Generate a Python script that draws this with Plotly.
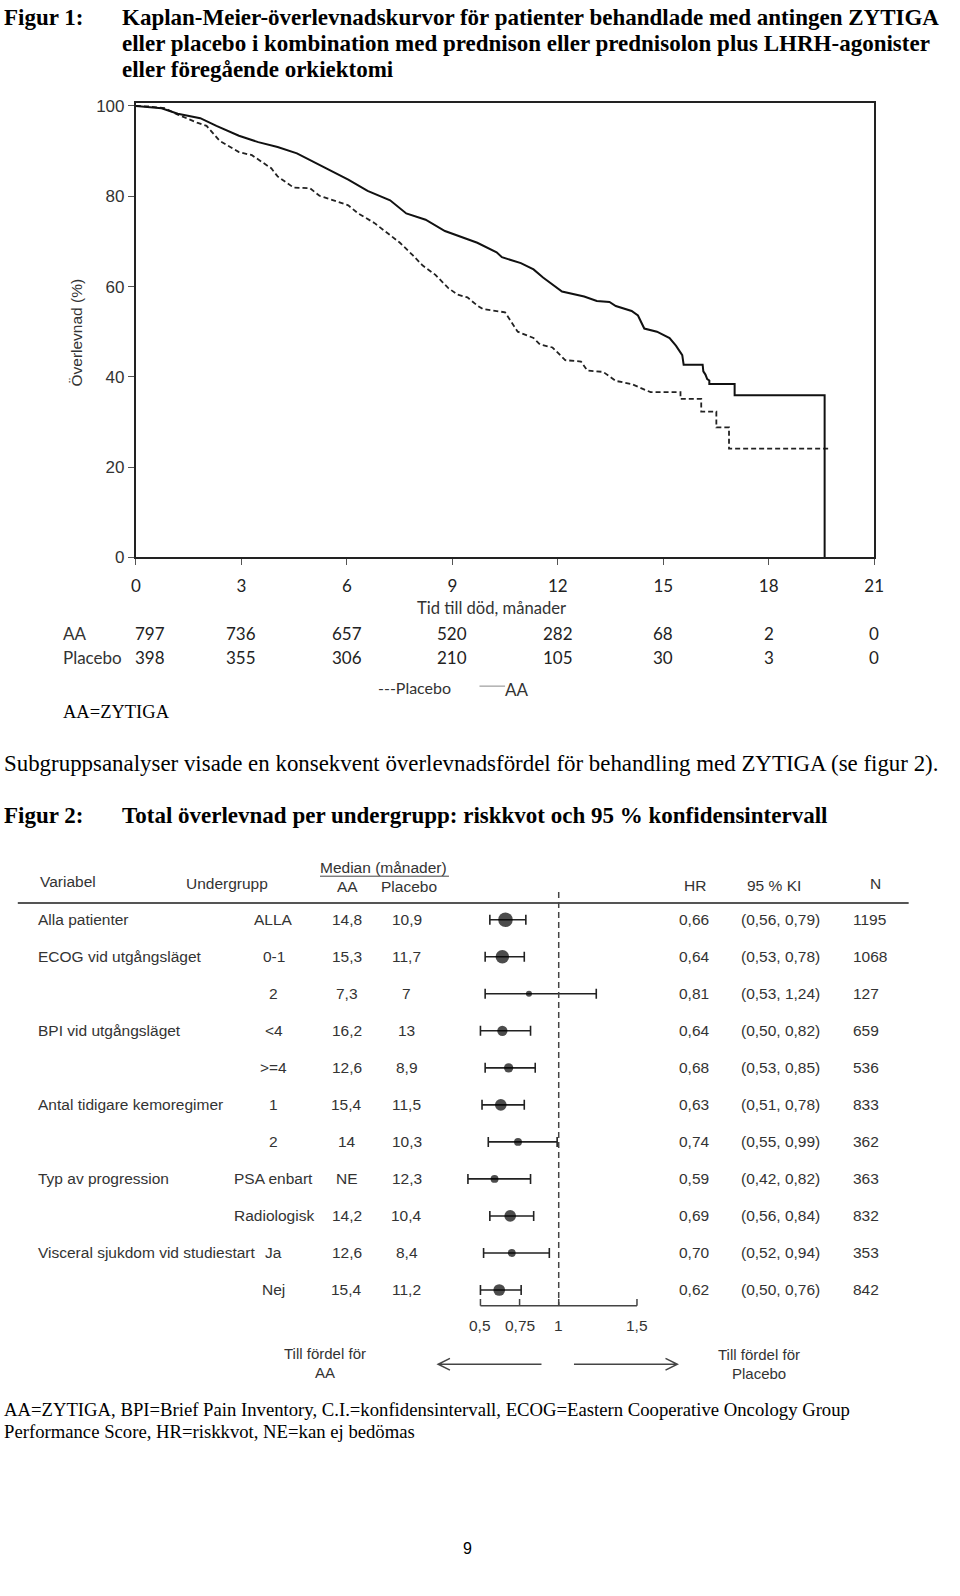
import plotly.graph_objects as go

W, H = 960, 1596

# ---------------- Figure 1 data (Kaplan-Meier) ----------------
aa_time = [0, 0.3, 0.73, 1.19, 1.83, 2.29, 2.93, 3.48, 4.03, 4.58, 5.13, 5.59, 6.04, 6.59,
           7.23, 7.69, 8.24, 8.79, 9.71, 10.26, 10.41, 10.95, 11.31, 11.58, 12.12, 12.75,
           13.11, 13.47, 13.65, 14.10, 14.28, 14.46, 14.82, 15.18, 15.36, 15.54, 15.58,
           16.12, 16.14, 16.20, 16.25, 16.31, 16.31, 17.03, 17.03, 19.59, 19.59]
aa_surv = [100, 99.8, 99.5, 98.3, 97.3, 95.6, 93.4, 92.0, 90.9, 89.5, 87.3, 85.5, 83.7, 81.2,
           79.1, 76.2, 74.8, 72.3, 69.7, 67.6, 66.5, 65.2, 63.8, 62.0, 58.9, 57.8,
           56.8, 56.6, 55.7, 54.6, 53.6, 50.7, 50.0, 48.6, 46.9, 44.8, 42.7,
           42.7, 41.2, 40.5, 39.5, 39.2, 38.4, 38.4, 35.9, 35.9, 0]

pl_time = [0, 0.35, 0.82, 1.19, 1.74, 2.01, 2.38, 2.93, 3.30, 3.85, 4.03, 4.49, 4.95, 5.22,
           6.04, 6.32, 6.78, 7.14, 7.51, 7.88, 8.15, 8.52, 8.88, 9.15, 9.43, 9.71, 9.87,
           10.50, 10.86, 11.31, 11.49, 11.85, 12.21, 12.66, 12.84, 13.29, 13.65, 14.10,
           14.64, 15.49, 15.49, 16.08, 16.08, 16.51, 16.51, 16.87, 16.87, 19.77]
pl_surv = [100, 99.9, 99.5, 98.1, 96.3, 95.6, 92.3, 89.8, 89.1, 86.2, 84.4, 81.9, 81.8, 80.1,
           78.0, 76.2, 74.1, 71.9, 69.7, 66.9, 64.7, 62.6, 59.7, 58.2, 57.6, 55.8, 55.0,
           54.3, 50.0, 48.6, 47.2, 46.5, 43.7, 43.4, 41.4, 41.1, 39.1, 38.4,
           36.6, 36.6, 35.1, 35.1, 32.3, 32.3, 28.8, 28.8, 24.1, 24.1]

km_xticks = [0, 3, 6, 9, 12, 15, 18, 21]
km_yticks = [0, 20, 40, 60, 80, 100]
risk_aa = [797, 736, 657, 520, 282, 68, 2, 0]
risk_pl = [398, 355, 306, 210, 105, 30, 3, 0]

# ---------------- Figure 2 data (forest plot) ----------------
variabel = ["Alla patienter", "ECOG vid utgångsläget", "", "BPI vid utgångsläget", "",
            "Antal tidigare kemoregimer", "", "Typ av progression", "",
            "Visceral sjukdom vid studiestart", ""]
undergrupp = ["ALLA", "0-1", "2", "<4", ">=4", "1", "2", "PSA enbart", "Radiologisk", "Ja", "Nej"]
median_aa = ["14,8", "15,3", "7,3", "16,2", "12,6", "15,4", "14", "NE", "14,2", "12,6", "15,4"]
median_pl = ["10,9", "11,7", "7", "13", "8,9", "11,5", "10,3", "12,3", "10,4", "8,4", "11,2"]
hr = [0.66, 0.64, 0.81, 0.64, 0.68, 0.63, 0.74, 0.59, 0.69, 0.70, 0.62]
ci_lo = [0.56, 0.53, 0.53, 0.50, 0.53, 0.51, 0.55, 0.42, 0.56, 0.52, 0.50]
ci_hi = [0.79, 0.78, 1.24, 0.82, 0.85, 0.78, 0.99, 0.82, 0.84, 0.94, 0.76]
n_pat = [1195, 1068, 127, 659, 536, 833, 362, 363, 832, 353, 842]
hr_ticks = [0.5, 0.75, 1, 1.5]
hr_ticktext = ["0,5", "0,75", "1", "1,5"]

# ---------------- helpers ----------------
SERIF = "Liberation Serif, Times New Roman, serif"
SANS = "Liberation Sans, Arial, sans-serif"
NARROW = "Liberation Sans Narrow, Lato, sans-serif"
TXT = "#333333"


def PX(x):
    return x / W


def PY(y):
    return 1 - y / H


ann = []
shapes = []


def text(x, y, s, size=15, family=SANS, color=TXT, xanchor="left", bold=False, **kw):
    if bold:
        s = "<b>" + s + "</b>"
    d = dict(x=PX(x), y=PY(y), xref="paper", yref="paper", text=s, showarrow=False,
             xanchor=xanchor, yanchor="middle", font=dict(size=size, family=family, color=color))
    d.update(kw)
    ann.append(d)


fig = go.Figure()

# ---------------- Figure 1 ----------------
fig.add_trace(go.Scatter(x=pl_time, y=pl_surv, mode="lines", xaxis="x", yaxis="y",
                         line=dict(color="#222222", width=1.8, dash="5px,3px"),
                         showlegend=False, hoverinfo="skip"))
fig.add_trace(go.Scatter(x=aa_time, y=aa_surv, mode="lines", xaxis="x", yaxis="y",
                         line=dict(color="#111111", width=2),
                         showlegend=False, hoverinfo="skip"))

km_top, km_bot = 98, 557
km_left, km_right = 133, 883
ymax = (km_bot - km_top) / ((km_bot - 101) / 100.0)

text(-3, 12, "Figur 1:", size=23, family=SERIF, color="#000", bold=True)
title1 = ["Kaplan-Meier-överlevnadskurvor för patienter behandlade med antingen ZYTIGA",
          "eller placebo i kombination med prednison eller prednisolon plus LHRH-agonister",
          "eller föregående orkiektomi"]
for i, t in enumerate(title1):
    text(117, 12 + 26 * i, t, size=23, family=SERIF, color="#000", bold=True)

text(73, 330, "Överlevnad (%)", size=15.5, family=SANS, xanchor="center", textangle=-90)
text(494, 608, "Tid till död, månader", size=16.6, family=NARROW, xanchor="center")

text(57, 634, "AA", size=17, family=NARROW)
text(57, 658, "Placebo", size=17, family=NARROW)
for i, t in enumerate(km_xticks):
    for val, yy in ((risk_aa[i], 634), (risk_pl[i], 658)):
        ann.append(dict(x=t, y=PY(yy), xref="x", yref="paper", text=str(val), showarrow=False,
                        xanchor="center", yanchor="middle", xshift=14 if i == 0 else 0,
                        font=dict(size=17, family=NARROW, color="#222")))

text(377, 688, "---Placebo", size=16, family=NARROW)
shapes.append(dict(type="line", xref="paper", yref="paper", x0=PX(482), x1=PX(508),
                   y0=PY(687), y1=PY(687), line=dict(color="#888", width=1)))
text(506, 690, "AA", size=17, family=NARROW)

text(57, 713, "AA=ZYTIGA", size=18.5, family=SERIF, color="#000")

text(-3, 765, "Subgruppsanalyser visade en konsekvent överlevnadsfördel för behandling med ZYTIGA (se figur 2).",
     size=22.9, family=SERIF, color="#000")

# ---------------- Figure 2 ----------------
text(-3, 818, "Figur 2:", size=23, family=SERIF, color="#000", bold=True)
text(117, 818, "Total överlevnad per undergrupp: riskkvot och 95 % konfidensintervall",
     size=23, family=SERIF, color="#000", bold=True)

row0, rstep = 923, 37.4
f_top, f_bot = 880, 1340
y2_top = (f_top - row0) / rstep
y2_bot = (f_bot - row0) / rstep
hr_px0, hr_scale = 483, 159.0
fx0, fx1 = 430, 690
x2_range = [0.5 + (fx0 - hr_px0) / hr_scale, 0.5 + (fx1 - hr_px0) / hr_scale]

idx = list(range(len(hr)))
sizes = [5 + 0.008 * v for v in n_pat]
fig.add_trace(go.Scatter(
    x=hr, y=idx, mode="markers", xaxis="x2", yaxis="y2",
    marker=dict(color="#000", size=sizes, line=dict(width=0)),
    error_x=dict(type="data", symmetric=False,
                 array=[h - c for h, c in zip(ci_hi, hr)],
                 arrayminus=[h - c for h, c in zip(hr, ci_lo)],
                 color="#222", thickness=1.6, width=5),
    showlegend=False, hoverinfo="skip"))

# header
text(34, 884, "Variabel", size=15.5)
text(182, 886, "Undergrupp", size=15.5)
text(385, 870, "Median (månader)", size=15.5, xanchor="center")
shapes.append(dict(type="line", xref="paper", yref="paper", x0=PX(320), x1=PX(451),
                   y0=PY(879), y1=PY(879), line=dict(color="#444", width=1)))
text(348, 889, "AA", size=15.5, xanchor="center")
text(410, 889, "Placebo", size=15.5, xanchor="center")
text(701, 888, "HR", size=15.5, xanchor="center")
text(781, 888, "95 % KI", size=15.5, xanchor="center")
text(884, 886, "N", size=15.5, xanchor="center")
shapes.append(dict(type="line", xref="paper", yref="paper", x0=PX(13), x1=PX(918),
                   y0=PY(906), y1=PY(906), line=dict(color="#555", width=2)))


def fmt(v):
    return ("%.2f" % v).replace(".", ",")


for i in idx:
    common = dict(xref="paper", yref="y2", y=i, showarrow=False, yanchor="middle",
                  font=dict(size=15.5, family=SANS, color=TXT))
    if variabel[i]:
        ann.append(dict(common, x=PX(31), text=variabel[i], xanchor="left"))
    ann.append(dict(common, x=PX(273), text=undergrupp[i].replace("<", "&lt;").replace(">", "&gt;"), xanchor="center"))
    ann.append(dict(common, x=PX(347), text=median_aa[i], xanchor="center"))
    ann.append(dict(common, x=PX(408), text=median_pl[i], xanchor="center"))
    ann.append(dict(common, x=PX(683), text=fmt(hr[i]), xanchor="left"))
    ann.append(dict(common, x=PX(746), text="(%s, %s)" % (fmt(ci_lo[i]), fmt(ci_hi[i])), xanchor="left"))
    ann.append(dict(common, x=PX(859), text=str(n_pat[i]), xanchor="left"))

# reference line at HR = 1
shapes.append(dict(type="line", xref="x2", yref="paper", x0=1, x1=1, y0=PY(895), y1=PY(1313),
                   line=dict(color="#444", width=1.5, dash="6px,4px")))
# HR axis line + ticks
shapes.append(dict(type="line", xref="x2", yref="paper", x0=min(hr_ticks), x1=max(hr_ticks),
                   y0=PY(1313), y1=PY(1313), line=dict(color="#444", width=1.5)))
for t, tt in zip(hr_ticks, hr_ticktext):
    shapes.append(dict(type="line", xref="x2", yref="paper", x0=t, x1=t, y0=PY(1313), y1=PY(1306),
                       line=dict(color="#444", width=1.5)))
    ann.append(dict(x=t, y=PY(1333), xref="x2", yref="paper", text=tt, showarrow=False,
                    xanchor="center", yanchor="middle", font=dict(size=15.5, family=SANS, color=TXT)))

# arrows
shapes.append(dict(type="path", xref="paper", yref="paper", line=dict(color="#444", width=1.5),
                   path="M %f %f L %f %f M %f %f L %f %f L %f %f" % (
                       PX(545), PY(1372), PX(440), PY(1372),
                       PX(452), PY(1366), PX(440), PY(1372), PX(452), PY(1378))))
shapes.append(dict(type="path", xref="paper", yref="paper", line=dict(color="#444", width=1.5),
                   path="M %f %f L %f %f M %f %f L %f %f L %f %f" % (
                       PX(578), PY(1372), PX(683), PY(1372),
                       PX(671), PY(1366), PX(683), PY(1372), PX(671), PY(1378))))
text(325, 1361, "Till fördel för", size=15, xanchor="center")
text(325, 1380, "AA", size=15, xanchor="center")
text(766, 1362, "Till fördel för", size=15, xanchor="center")
text(766, 1381, "Placebo", size=15, xanchor="center")

text(-3, 1418, "AA=ZYTIGA, BPI=Brief Pain Inventory, C.I.=konfidensintervall, ECOG=Eastern Cooperative Oncology Group",
     size=18.7, family=SERIF, color="#000")
text(-3, 1440, "Performance Score, HR=riskkvot, NE=kan ej bedömas", size=18.7, family=SERIF, color="#000")
text(470, 1558, "9", size=16, xanchor="center", color="#000")

fig.update_layout(
    width=W, height=H, margin=dict(l=0, r=0, t=0, b=0),
    paper_bgcolor="white", plot_bgcolor="white", showlegend=False,
    xaxis=dict(domain=[PX(km_left), PX(km_right)], range=[0, 21], tickvals=km_xticks,
               ticks="outside", ticklen=6, tickcolor="#555", showline=True, linecolor="#222",
               linewidth=2, mirror=True, showgrid=False, zeroline=False, anchor="y",
               tickfont=dict(size=17, family=NARROW, color="#222"), ticklabelstandoff=6),
    yaxis=dict(domain=[PY(km_bot), PY(km_top)], range=[0, ymax], tickvals=km_yticks,
               ticks="outside", ticklen=6, tickcolor="#555", showline=True, linecolor="#222",
               linewidth=2, mirror=True, showgrid=False, zeroline=False, anchor="x",
               tickfont=dict(size=17, family=SANS, color="#333")),
    xaxis2=dict(domain=[PX(fx0), PX(fx1)], range=x2_range, visible=False, anchor="y2"),
    yaxis2=dict(domain=[PY(f_bot), PY(f_top)], range=[y2_bot, y2_top], visible=False, anchor="x2"),
    annotations=ann, shapes=shapes,
)

css_js = ("var s=document.createElement('style');"
          "s.innerHTML='html,body{margin:0!important;padding:0!important;overflow:hidden!important;}';"
          "document.head.appendChild(s);")
fig.write_html("out.html", config={"displayModeBar": False}, post_script=css_js)
